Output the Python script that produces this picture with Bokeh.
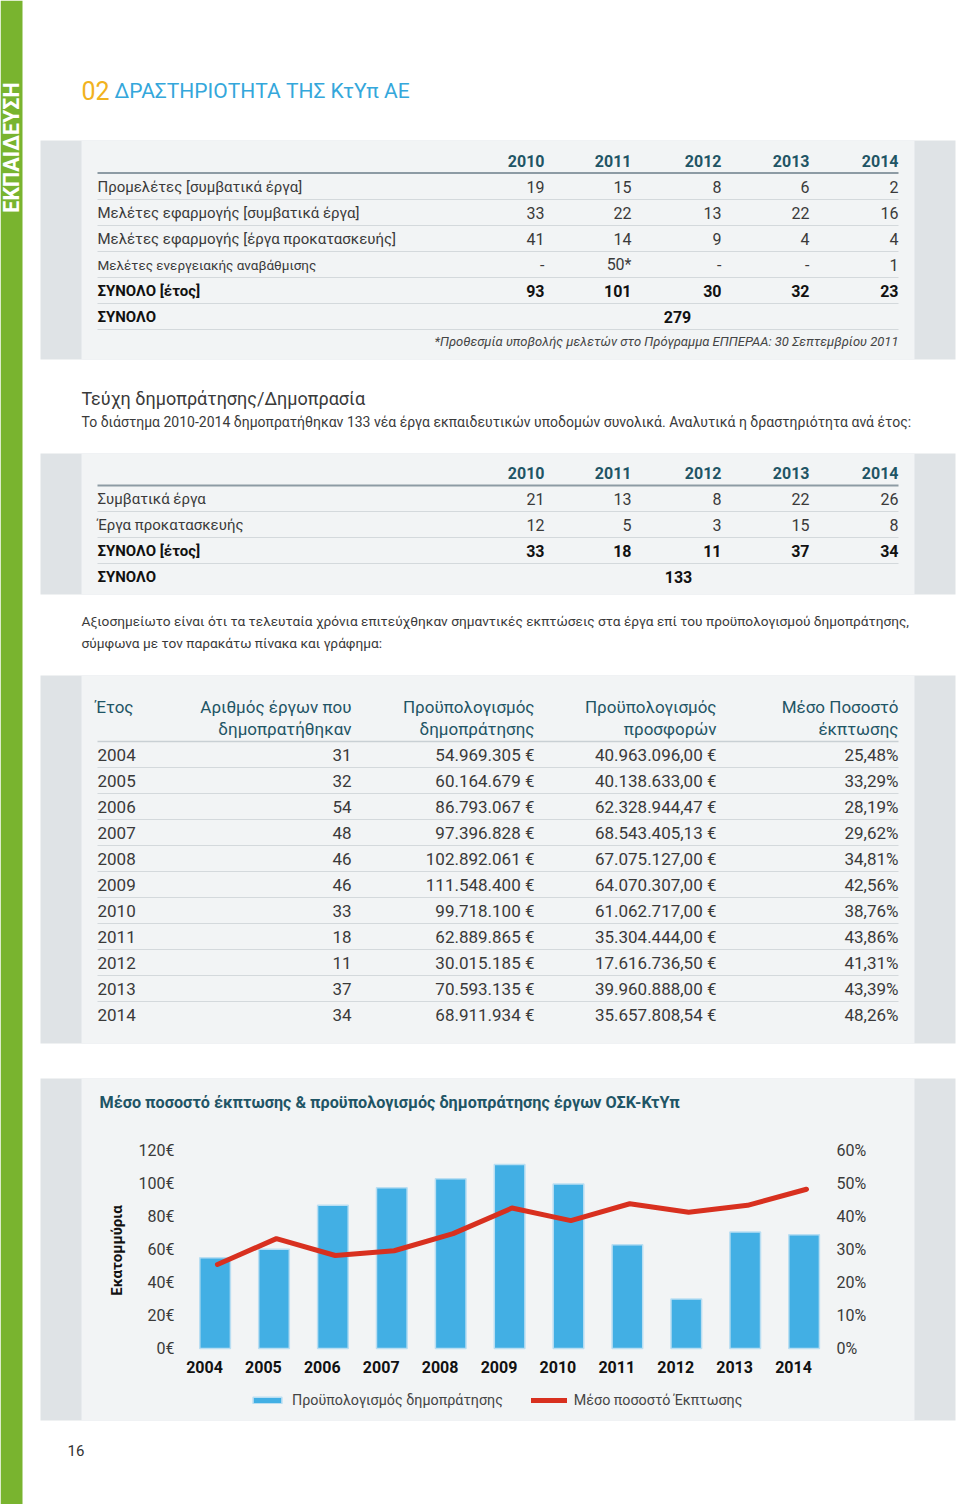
import numpy as np
from bokeh.plotting import figure
from bokeh.models import Range1d, Legend, LegendItem, ColumnDataSource
from bokeh.transform import dodge
from bokeh.core.properties import value
from bokeh.embed import file_html
from bokeh.resources import INLINE

# ---------------- data ----------------
t1_years = ["2010", "2011", "2012", "2013", "2014"]
t1_labels = ["Προμελέτες [συμβατικά έργα]",
             "Μελέτες εφαρμογής [συμβατικά έργα]",
             "Μελέτες εφαρμογής [έργα προκατασκευής]",
             "Μελέτες ενεργειακής αναβάθμισης"]
t1_row1 = ["19", "15", "8", "6", "2"]
t1_row2 = ["33", "22", "13", "22", "16"]
t1_row3 = ["41", "14", "9", "4", "4"]
t1_row4 = ["-", "50*", "-", "-", "1"]
t1_year_totals = ["93", "101", "30", "32", "23"]
t1_total = "279"
t1_note = "*Προθεσμία υποβολής μελετών στο Πρόγραμμα ΕΠΠΕΡΑΑ: 30 Σεπτεμβρίου 2011"

t2_labels = ["Συμβατικά έργα", "Έργα προκατασκευής"]
t2_row1 = ["21", "13", "8", "22", "26"]
t2_row2 = ["12", "5", "3", "15", "8"]
t2_year_totals = ["33", "18", "11", "37", "34"]
t2_total = "133"

years = [2004, 2005, 2006, 2007, 2008, 2009, 2010, 2011, 2012, 2013, 2014]
projects = [31, 32, 54, 48, 46, 46, 33, 18, 11, 37, 34]
budget = [54969305, 60164679, 86793067, 97396828, 102892061, 111548400,
          99718100, 62889865, 30015185, 70593135, 68911934]
offers = [40963096.00, 40138633.00, 62328944.47, 68543405.13, 67075127.00,
          64070307.00, 61062717.00, 35304444.00, 17616736.50, 39960888.00, 35657808.54]
discount = [25.48, 33.29, 28.19, 29.62, 34.81, 42.56, 38.76, 43.86, 41.31, 43.39, 48.26]

t3_head1 = ["Αριθμός έργων που", "Προϋπολογισμός", "Προϋπολογισμός", "Μέσο Ποσοστό"]
t3_head2 = ["δημοπρατήθηκαν", "δημοπράτησης", "προσφορών", "έκπτωσης"]

money_ticks = [0, 20, 40, 60, 80, 100, 120]
pct_ticks = [0, 10, 20, 30, 40, 50, 60]

# ---------------- styles ----------------
FONT = "Roboto"
GREEN = "#79b42f"
DARK = "#dfe3e6"
LIGHT = "#f2f4f5"
TEAL = "#1f5565"
TXT = "#3a3a3a"
BLUE = "#42afe4"
RED = "#d8301f"
ORANGE = "#f1b220"
TBLUE = "#34a7db"

W, H = 956, 1504


def fmt_int(v):
    return f"{v:,}".replace(",", ".") + " €"


def fmt_dec(v):
    s = f"{v:,.2f}".replace(",", "X").replace(".", ",").replace("X", ".")
    return s + " €"


def fmt_pct(v):
    return f"{v:.2f}".replace(".", ",") + "%"


p = figure(width=W, height=H, x_range=Range1d(0, W), y_range=Range1d(H, 0),
           output_backend="svg", toolbar_location=None, min_border=0,
           x_axis_type=None, y_axis_type=None)
p.outline_line_color = None
p.background_fill_color = "white"
p.border_fill_color = "white"

# chart scales (pixel placement of the chart inside the page)
PX_YEAR = 58.9          # px per year
X2004 = 204.0           # px of the 2004 tick label
PX_M = 1.65             # px per million euro
BASE = 1348.0           # px of the zero line
yr0 = years[0] - X2004 / PX_YEAR
p.extra_x_ranges = {"yr": Range1d(yr0, yr0 + W / PX_YEAR)}
p.extra_y_ranges = {"M": Range1d(-(H - BASE) / PX_M, BASE / PX_M),
                    "P": Range1d(-(H - BASE) / PX_M / 2, BASE / PX_M / 2)}


def txt(xs, ys, texts, size="15px", align="left", color=TXT, style="normal", **kw):
    p.text(x=xs, y=ys, text=texts, text_font=value(FONT), text_font_size=size,
           text_align=align, text_baseline="middle", text_color=color,
           text_font_style=style, **kw)


# ---------------- page background ----------------
p.quad(left=[0], right=[22], top=[0], bottom=[H], color=GREEN, line_color=None)
p.text(x=[11], y=[147], text=["ΕΚΠΑΙΔΕΥΣΗ"], angle=np.pi / 2, text_font=value(FONT),
       text_font_size="21.5px", text_font_style="bold", text_color="white",
       text_align="center", text_baseline="middle")

panels = [(140, 359), (453, 594), (675, 1043), (1078, 1420)]
p.quad(left=[40] * 4, right=[955] * 4, top=[a for a, b in panels],
       bottom=[b for a, b in panels], color=DARK, line_color=None)
p.quad(left=[81] * 4, right=[914] * 4, top=[a for a, b in panels],
       bottom=[b for a, b in panels], color=LIGHT, line_color=None)

# title
txt([81], [90], ["02"], size="25px", color=ORANGE)
txt([114], [90], ["ΔΡΑΣΤΗΡΙΟΤΗΤΑ ΤΗΣ ΚτΥπ ΑΕ"], size="21px", color=TBLUE)

col_x = [544, 631, 721, 809, 898]

# table 1
txt(col_x, [160] * 5, t1_years, size="16px", align="right", color=TEAL, style="bold")
p.segment(x0=[97], y0=[172.5], x1=[898], y1=[172.5], line_color="#8d9ba4", line_width=2)
seps1 = [199, 225, 251, 277, 303, 329]
p.segment(x0=[97] * 6, y0=seps1, x1=[898] * 6, y1=seps1, line_color="#d4d9dc", line_width=1)
rows1 = [t1_row1, t1_row2, t1_row3, t1_row4]
for i, (lab, vals) in enumerate(zip(t1_labels, rows1)):
    y = 186 + 26 * i
    txt([97], [y], [lab], size="15px" if i < 3 else "13.5px")
    txt(col_x, [y] * 5, vals, size="16px", align="right")
txt([97], [290], ["ΣΥΝΟΛΟ [έτος]"], size="15px", style="bold", color="#111111")
txt(col_x, [290] * 5, t1_year_totals, size="16px", align="right", style="bold", color="#111111")
txt([97], [316], ["ΣΥΝΟΛΟ"], size="15px", style="bold", color="#111111")
txt([677], [316], [t1_total], size="16px", align="center", style="bold", color="#111111")
txt([898], [341], [t1_note], size="13px", align="right", style="italic", color="#444444")

# section text
txt([81], [398], ["Τεύχη δημοπράτησης/Δημοπρασία"], size="18px")
txt([81], [421], ["Το διάστημα 2010-2014 δημοπρατήθηκαν 133 νέα έργα εκπαιδευτικών υποδομών συνολικά. Αναλυτικά η δραστηριότητα ανά έτος:"], size="14px")

# table 2
txt(col_x, [472] * 5, t1_years, size="16px", align="right", color=TEAL, style="bold")
p.segment(x0=[97], y0=[485], x1=[898], y1=[485], line_color="#8d9ba4", line_width=2)
seps2 = [511, 537, 563]
p.segment(x0=[97] * 3, y0=seps2, x1=[898] * 3, y1=seps2, line_color="#d4d9dc", line_width=1)
for i, (lab, vals) in enumerate(zip(t2_labels, [t2_row1, t2_row2])):
    y = 498 + 26 * i
    txt([97], [y], [lab], size="15px")
    txt(col_x, [y] * 5, vals, size="16px", align="right")
txt([97], [550], ["ΣΥΝΟΛΟ [έτος]"], size="15px", style="bold", color="#111111")
txt(col_x, [550] * 5, t2_year_totals, size="16px", align="right", style="bold", color="#111111")
txt([97], [576], ["ΣΥΝΟΛΟ"], size="15px", style="bold", color="#111111")
txt([678], [576], [t2_total], size="16px", align="center", style="bold", color="#111111")

txt([81], [620], ["Αξιοσημείωτο είναι ότι τα τελευταία χρόνια επιτεύχθηκαν σημαντικές εκπτώσεις στα έργα επί του προϋπολογισμού δημοπράτησης,"], size="13.7px")
txt([81], [642], ["σύμφωνα με τον παρακάτω πίνακα και γράφημα:"], size="13.7px")

# table 3
c3 = [351, 534, 716, 898]
txt([95], [706], ["Έτος"], size="17px", color=TEAL)
txt(c3, [706] * 4, t3_head1, size="17px", align="right", color=TEAL)
txt(c3, [728] * 4, t3_head2, size="17px", align="right", color=TEAL)
p.segment(x0=[97], y0=[741], x1=[898], y1=[741], line_color="#c9d0d4", line_width=1.5)
seps3 = [767 + 26 * i for i in range(10)]
p.segment(x0=[97] * 10, y0=seps3, x1=[898] * 10, y1=seps3, line_color="#d4d9dc", line_width=1)
ys3 = [754 + 26 * i for i in range(len(years))]
txt([97] * len(years), ys3, [str(v) for v in years], size="17px")
txt([c3[0]] * len(years), ys3, [str(v) for v in projects], size="17px", align="right")
txt([c3[1]] * len(years), ys3, [fmt_int(v) for v in budget], size="17px", align="right")
txt([c3[2]] * len(years), ys3, [fmt_dec(v) for v in offers], size="17px", align="right")
txt([c3[3]] * len(years), ys3, [fmt_pct(v) for v in discount], size="17px", align="right")

# ---------------- chart ----------------
txt([99], [1102], ["Μέσο ποσοστό έκπτωσης & προϋπολογισμός δημοπράτησης έργων ΟΣΚ-ΚτΥπ"],
    size="16.2px", color=TEAL, style="bold")

src = ColumnDataSource(dict(yr=years, budget_m=[b / 1e6 for b in budget], pct=discount))
bars = p.vbar(x=dodge("yr", 0.18), top="budget_m", bottom=0, width=0.52, source=src,
              fill_color=BLUE, line_color="#b9def2", line_width=1.5,
              x_range_name="yr", y_range_name="M")
ln = p.line(x=dodge("yr", 0.22), y="pct", source=src, line_color=RED, line_width=5,
            line_join="round", line_cap="round", x_range_name="yr", y_range_name="P")

# tick labels placed through the chart scales
p.text(x=[174] * len(money_ticks), y=money_ticks, text=[f"{t}€" for t in money_ticks],
       y_range_name="M", text_font=value(FONT), text_font_size="16px", text_color=TXT,
       text_align="right", text_baseline="middle")
p.text(x=[836] * len(pct_ticks), y=pct_ticks, text=[f"{t}%" for t in pct_ticks],
       y_range_name="P", text_font=value(FONT), text_font_size="16px", text_color=TXT,
       text_align="left", text_baseline="middle")
p.text(x=years, y=[1366] * len(years), text=[str(v) for v in years], x_range_name="yr",
       text_font=value(FONT), text_font_size="16px", text_font_style="bold",
       text_color="#111111", text_align="center", text_baseline="middle")
p.text(x=[116], y=[1250], text=["Εκατομμύρια"], angle=np.pi / 2, text_font=value(FONT),
       text_font_size="15px", text_font_style="bold", text_color="#111111",
       text_align="center", text_baseline="middle")

leg = Legend(items=[LegendItem(label="Προϋπολογισμός δημοπράτησης", renderers=[bars]),
                    LegendItem(label="Μέσο ποσοστό Έκπτωσης", renderers=[ln])],
             orientation="horizontal", location=(249, H - 1408))
leg.label_text_font = FONT
leg.label_text_font_size = "14.3px"
leg.label_text_color = "#444444"
leg.glyph_width = 36
leg.glyph_height = 8
leg.spacing = 28
leg.label_standoff = 7
leg.padding = 4
leg.margin = 0
leg.border_line_color = None
leg.background_fill_alpha = 0
p.add_layout(leg)

# page number
txt([67], [1450], ["16"], size="15px", color="#333333")

open("out.html", "w").write(file_html(p, INLINE))
